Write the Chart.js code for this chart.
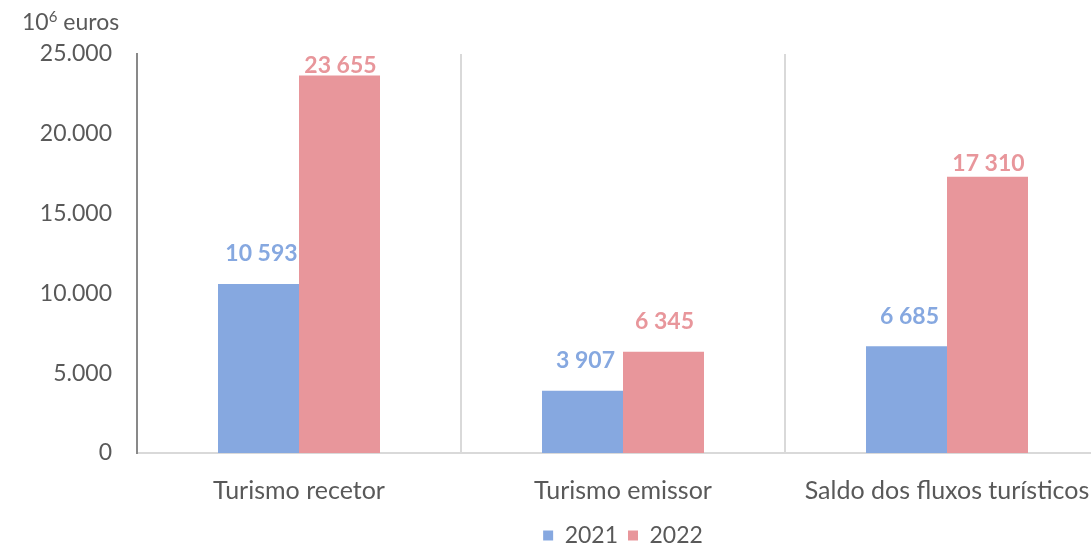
<!DOCTYPE html>
<html>
<head>
<meta charset="utf-8">
<script src="https://cdn.jsdelivr.net/npm/chart.js@4/dist/chart.umd.min.js"></script>
<style>
  body { margin: 0; overflow: hidden; background: #fff; }
  #wrap { position: relative; width: 1091px; height: 544px; overflow: hidden; }
  #unit { position: absolute; left: 22px; top: 7px; font: 23px Lato, sans-serif; color: #595959; }
  #unit sup { font-size: 15px; vertical-align: 8px; line-height: 0; }
</style>
</head>
<body>
<div id="wrap">
  <canvas id="chart" width="1120" height="557"></canvas>
  <div id="unit">10<sup>6</sup> euros</div>
</div>
<script>
// categories and series
const categories = ['Turismo recetor', 'Turismo emissor', 'Saldo dos fluxos turísticos'];
const values2021 = [10593, 3907, 6685];
const values2022 = [23655, 6345, 17310];
const yTicks = [0, 5000, 10000, 15000, 20000, 25000];

const blue = '#86a8e0';
const pink = '#e8969b';
const textGray = '#595959';
const font = 'Lato';

const spaceFmt = v => String(v).replace(/\B(?=(\d{3})+(?!\d))/g, ' ');
const dotFmt = v => String(v).replace(/\B(?=(\d{3})+(?!\d))/g, '.');

// value labels above bars, offsets are per dataset/category (px)
const barLabels = {
  id: 'barLabels',
  afterDatasetsDraw(chart, args, opts) {
    const ctx = chart.ctx;
    ctx.save();
    ctx.font = 'bold 23px ' + font;
    ctx.textAlign = 'center';
    ctx.textBaseline = 'middle';
    chart.data.datasets.forEach((ds, i) => {
      const meta = chart.getDatasetMeta(i);
      ctx.fillStyle = ds.backgroundColor;
      meta.data.forEach((bar, j) => {
        const off = opts.offsets[i][j];
        ctx.fillText(spaceFmt(ds.data[j]), bar.x + opts.shiftX[i], bar.y - off);
      });
    });
    ctx.restore();
  }
};

new Chart(document.getElementById('chart'), {
  type: 'bar',
  data: {
    labels: categories,
    datasets: [
      { label: '2021', data: values2021, backgroundColor: blue },
      { label: '2022', data: values2022, backgroundColor: pink }
    ]
  },
  plugins: [barLabels],
  options: {
    responsive: false,
    devicePixelRatio: 1,
    animation: false,
    layout: { padding: { top: 54, right: 11, left: 0, bottom: 0 } },
    datasets: { bar: { categoryPercentage: 0.5, barPercentage: 1 } },
    scales: {
      x: {
        grid: { color: '#d9d9d9', lineWidth: 2, drawTicks: false, offset: true },
        border: { color: '#d9d9d9', width: 2 },
        ticks: { color: textGray, font: { family: font, size: 25 }, padding: 23, maxRotation: 0 },
        afterFit(scale) { scale.height = 61; }
      },
      y: {
        min: yTicks[0],
        max: yTicks[yTicks.length - 1],
        grid: { display: false, drawTicks: false },
        border: { color: '#898989', width: 2 },
        ticks: { stepSize: yTicks[1] - yTicks[0], color: textGray, font: { family: font, size: 23 }, padding: 25, callback: v => dotFmt(v) },
        afterFit(scale) { scale.width = 137; }
      }
    },
    plugins: {
      legend: {
        position: 'bottom',
        fullSize: false,
        labels: {
          color: textGray,
          font: { family: font, size: 23 },
          boxWidth: 10,
          boxHeight: 10,
          padding: 10
        }
      },
      tooltip: { enabled: false },
      barLabels: {
        offsets: [[30, 30, 30], [10, 30, 13]],
        shiftX: [3, 1]
      }
    }
  }
});
</script>
</body>
</html>
